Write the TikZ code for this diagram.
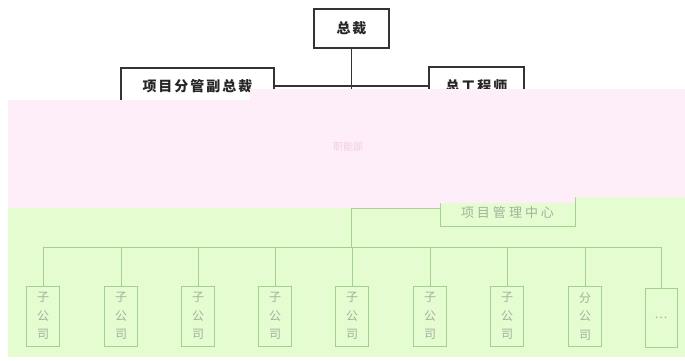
\documentclass[tikz,border=0pt]{standalone}
\usepackage{fontspec}
\newfontfamily\cjk{Noto Sans CJK SC}
\newcommand\gp{\hspace{2pt}}
\definecolor{pinkband}{HTML}{FDEEF9}
\definecolor{greenband}{HTML}{E5FBD0}
\definecolor{gline}{HTML}{A3D08C}
\definecolor{gtext}{HTML}{A2B29B}
\definecolor{ptext}{HTML}{F4CDE4}
\definecolor{dark}{HTML}{333333}
\begin{document}
\begin{tikzpicture}[x=1pt,y=-1pt,
  topbox/.style={draw=dark,line width=1.3pt,fill=white,inner sep=0pt,
    font=\cjk\bfseries\fontsize{14}{16}\selectfont,text=black!85},
  toplink/.style={draw=dark,line width=1.3pt},
  subbox/.style={draw=gline,line width=0.9pt,inner sep=0pt,minimum width=33pt,minimum height=60pt,
    font=\cjk\fontsize{12}{18.5}\selectfont,text=gtext,align=center},
  glink/.style={draw=gline,line width=0.9pt}]
\useasboundingbox (0,0) rectangle (685,360);
% top level
\node[topbox,minimum width=75pt,minimum height=39pt] (ceo) at (351.5,28.5) {总\gp 裁};
\node[topbox,minimum width=153pt,minimum height=36pt] (vp) at (197.5,86) {项\gp 目\gp 分\gp 管\gp 副\gp 总\gp 裁};
\node[topbox,minimum width=95pt,minimum height=38pt] (ce) at (476.5,86) {总\gp 工\gp 程\gp 师};
\coordinate (t1) at (351.5,89);
\draw[toplink] (ceo.south) -- (t1);
\draw[toplink] (vp.east) -- (ce.west);
% green band and its content
\fill[greenband] (8,196) rectangle (685,357);
\node[draw=gline,line width=0.9pt,inner sep=0pt,minimum width=135pt,minimum height=40pt,
  font=\cjk\fontsize{13}{15}\selectfont,text=gtext] (pm) at (507.5,206) {\rule{0pt}{25pt}项\hspace{3pt}目\hspace{3pt}管\hspace{3pt}理\hspace{3pt}中\hspace{3pt}心};
\coordinate (t2) at (351.5,208);
\coordinate (bus) at (351.5,247);
\draw[glink] (t2) -- (bus);
\draw[glink] (t2) -- (pm.west |- t2);
\foreach \n/\x/\t in {s1/43/子,s2/121/子,s3/198/子,s4/275/子,s5/352/子,s6/430/子,s7/507/子,s8/585/分}{
  \node[subbox] (\n) at (\x,316) {\t\\公\\司};
  \coordinate (b\n) at (\x,247);
  \draw[glink] (b\n) -- (\n.north);
}
\node[subbox,minimum width=32pt,minimum height=59pt] (s9) at (661,317.5) {…};
\coordinate (bs9) at (661,247);
\draw[glink] (bs9) -- (s9.north);
\draw[glink] (bs1) -- (bs9);
% pink band (stepped edges)
\fill[pinkband] (8,100) -- (250,100) -- (250,89) -- (685,89) -- (685,197) -- (575,197)
  -- (575,203) -- (440,203) -- (440,208) -- (8,208) -- cycle;
\node[font=\cjk\fontsize{10}{12}\selectfont,text=ptext] (mid) at (348,147) {职能部};
\end{tikzpicture}
\end{document}
